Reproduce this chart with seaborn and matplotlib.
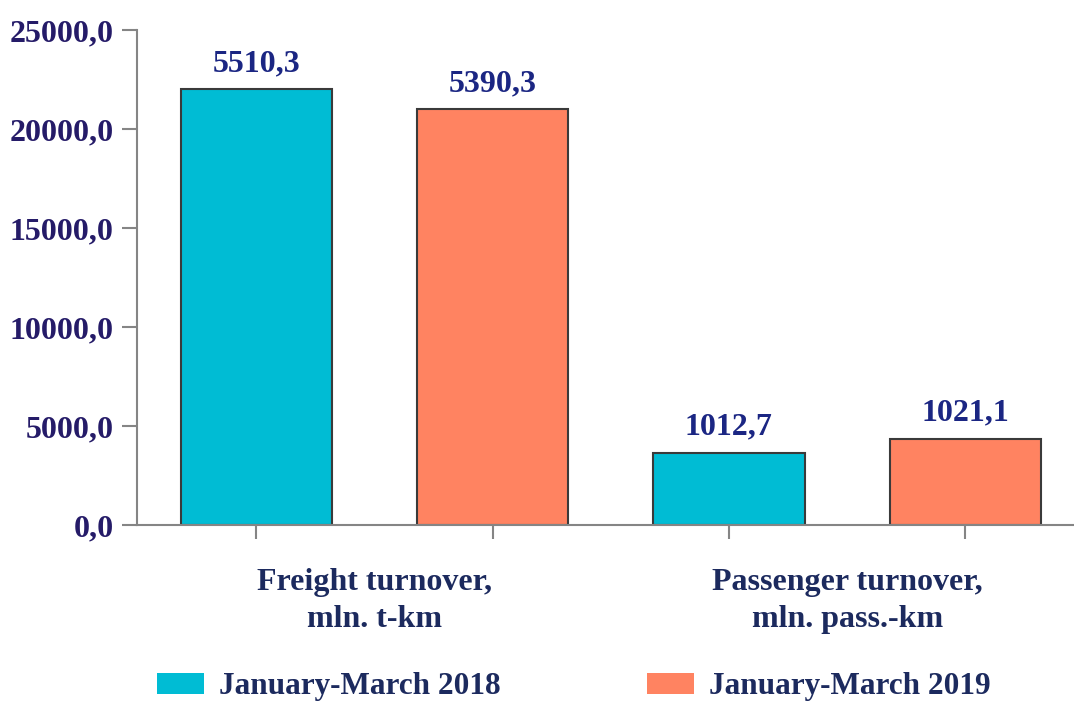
import pandas as pd
import matplotlib
matplotlib.use("Agg")
import matplotlib.pyplot as plt
import matplotlib.patches as mpatches
from matplotlib.ticker import FuncFormatter, MultipleLocator
import seaborn as sns

# bar heights as drawn in the picture (the printed labels differ from the heights)
categorias = ["Freight turnover,\nmln. t-km", "Passenger turnover,\nmln. pass.-km"]
periodos = ["January-March 2018", "January-March 2019"]
valores_2018 = [22000, 3650]
valores_2019 = [21000, 4350]
etiquetas_2018 = ["5510,3", "1012,7"]
etiquetas_2019 = ["5390,3", "1021,1"]

colores = ["#00bcd4", "#ff8361"]
azul_ejes = "#251b68"
azul_datos = "#1b2683"
azul_texto = "#1c2a5e"
gris = "#858585"

df = pd.DataFrame({
    "Categoria": categorias * 2,
    "Periodo": [periodos[0]] * 2 + [periodos[1]] * 2,
    "Valor": valores_2018 + valores_2019,
})

sns.set_style("white")
plt.rcParams["font.family"] = ["Liberation Serif", "DejaVu Serif"]
plt.rcParams["font.weight"] = "bold"

fig = plt.figure(figsize=(10.74, 7.02), dpi=100)
ax = fig.add_axes([0.1276, 0.2521, 0.8724, 0.7051])

sns.barplot(data=df, x="Categoria", y="Valor", hue="Periodo", palette=colores,
            width=1.0, gap=0.36, edgecolor="#3a3a3a", linewidth=1.5,
            saturation=1, legend=False, ax=ax)

for cont, etiquetas in zip(ax.containers, [etiquetas_2018, etiquetas_2019]):
    ax.bar_label(cont, labels=etiquetas, padding=8, fontsize=23,
                 fontweight="bold", color=azul_datos)

ax.set_ylim(0, 25000)
ax.set_xlim(-0.502, 1.48)
ax.yaxis.set_major_locator(MultipleLocator(5000))
ax.yaxis.set_major_formatter(FuncFormatter(lambda v, p: f"{v:.1f}".replace(".", ",")))
ax.tick_params(axis="y", length=11, width=1.5, color=gris, labelsize=23,
               labelcolor=azul_ejes, pad=6, left=True)

# category names centred under each pair, short ticks under each bar
centros = sorted(p.get_x() + p.get_width() / 2 for p in ax.patches if p.get_height() > 0)
ax.set_xticks(centros, minor=True)
ax.tick_params(axis="x", which="minor", length=10, width=1.5, color=gris, bottom=True)
ax.tick_params(axis="x", which="major", length=0, labelsize=23,
               labelcolor=azul_texto, pad=31)
for t in ax.get_xticklabels():
    t.set_linespacing(1.35)
ax.set_xlabel("")
ax.set_ylabel("")

sns.despine(ax=ax, top=True, right=True)
for lado in ["left", "bottom"]:
    ax.spines[lado].set_color(gris)
    ax.spines[lado].set_linewidth(1.5)

manijas = [mpatches.Patch(facecolor=c, edgecolor="none", label=p)
           for c, p in zip(colores, periodos)]
fig.legend(handles=manijas, loc="lower left", bbox_to_anchor=(157 / 1074, 0.001),
           ncol=2, frameon=False, fontsize=22.5, labelcolor=azul_texto,
           borderpad=0, borderaxespad=0,
           handlelength=1.5, handleheight=0.63, handletextpad=0.47,
           columnspacing=4.7)

fig.savefig("out.png", dpi=100)
